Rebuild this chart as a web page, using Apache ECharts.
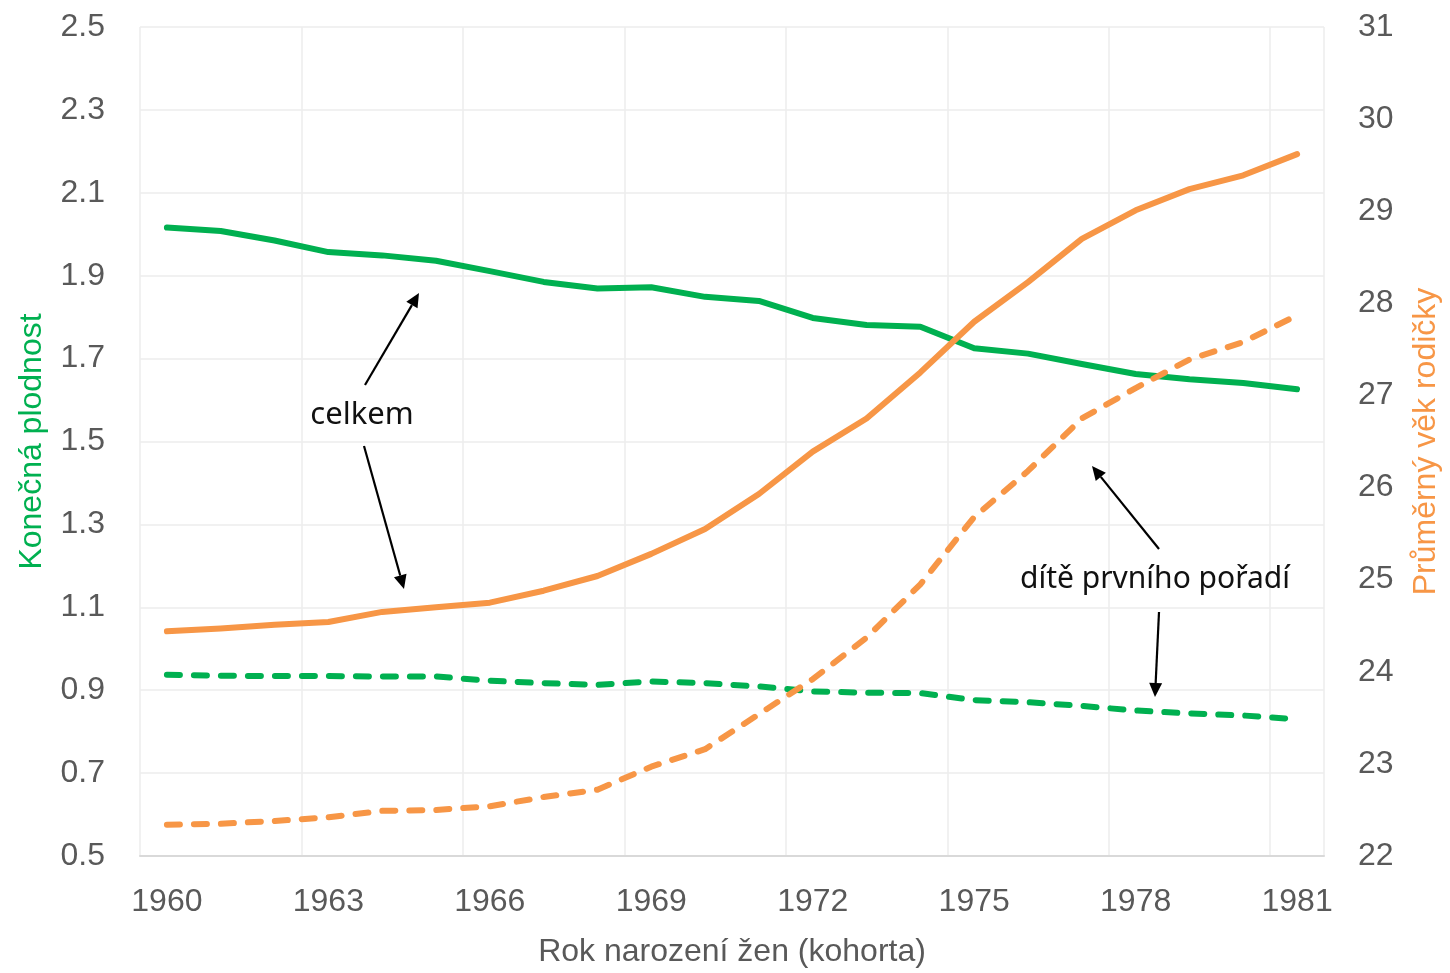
<!DOCTYPE html>
<html>
<head>
<meta charset="utf-8">
<script src="https://cdn.jsdelivr.net/npm/echarts@6/dist/echarts.min.js"></script>
<style>
html,body{margin:0;padding:0;background:#fff;overflow:hidden;width:100%;height:100%;}
#chart{width:100vw;height:100vh;}
</style>
</head>
<body>
<div id="chart"></div>
<script>
const years = ['1960','1961','1962','1963','1964','1965','1966','1967','1968','1969','1970','1971','1972','1973','1974','1975','1976','1977','1978','1979','1980','1981'];
// Konečná plodnost – celkem (left axis)
const fertTotal = [2.016,2.008,1.985,1.957,1.949,1.936,1.911,1.885,1.869,1.872,1.849,1.839,1.798,1.781,1.777,1.725,1.712,1.687,1.663,1.650,1.641,1.626];
// Konečná plodnost – dítě prvního pořadí (left axis)
const fertFirst = [0.937,0.935,0.934,0.934,0.933,0.933,0.923,0.917,0.913,0.921,0.917,0.909,0.897,0.894,0.893,0.876,0.871,0.862,0.851,0.844,0.839,0.830];
// Průměrný věk rodičky – celkem (right axis)
const ageTotal = [24.44,24.47,24.51,24.54,24.65,24.70,24.75,24.88,25.04,25.28,25.55,25.93,26.39,26.75,27.25,27.80,28.23,28.70,29.01,29.24,29.39,29.62];
// Průměrný věk rodičky – dítě prvního pořadí (right axis)
const ageFirst = [22.34,22.35,22.38,22.42,22.49,22.50,22.54,22.64,22.72,22.97,23.16,23.54,23.92,24.37,24.95,25.68,26.18,26.75,27.08,27.39,27.58,27.87];

const GREEN = '#00B050';
const ORANGE = '#F79646';
const GRAY = '#595959';
const FONT = '"Liberation Sans", Arial, sans-serif';

function arrow(x1, y1, x2, y2) {
  const ang = Math.atan2(y2 - y1, x2 - x1);
  const L = 14, W = 6.5;
  const bx = x2 - L * Math.cos(ang), by = y2 - L * Math.sin(ang);
  const px = -Math.sin(ang) * W, py = Math.cos(ang) * W;
  return [
    { type: 'line', shape: { x1: x1, y1: y1, x2: bx, y2: by }, style: { stroke: '#000', lineWidth: 2.2 }, z: 100 },
    { type: 'polygon', shape: { points: [[x2, y2], [bx + px, by + py], [bx - px, by - py]] }, style: { fill: '#000' }, z: 100 }
  ];
}

const annotations = [].concat(
  arrow(365, 385, 419, 293),
  arrow(364, 446, 404, 589),
  arrow(1159, 549, 1092, 466),
  arrow(1159, 612, 1155, 697),
  [
    { type: 'text', x: 362, y: 415, style: { text: 'celkem', fill: '#111', font: '31px "Noto Sans", sans-serif', align: 'center', verticalAlign: 'middle' }, z: 100 },
    { type: 'text', x: 1155, y: 579, style: { text: 'dítě prvního pořadí', fill: '#111', font: '30px "Noto Sans", sans-serif', align: 'center', verticalAlign: 'middle' }, z: 100 }
  ]
);

const chart = echarts.init(document.getElementById('chart'), null, { renderer: 'canvas' });
const option = {
  backgroundColor: '#fff',
  animation: false,
  textStyle: { fontFamily: FONT },
  grid: { left: 140, right: 122, top: 27, bottom: 112, containLabel: false },
  xAxis: {
    type: 'category',
    data: years,
    boundaryGap: true,
    name: 'Rok narození žen (kohorta)',
    nameLocation: 'middle',
    nameGap: 80,
    nameTextStyle: { color: GRAY, fontSize: 32, fontFamily: FONT },
    axisLine: { show: true, lineStyle: { color: '#d9d9d9', width: 2 } },
    axisTick: { show: false },
    axisLabel: { interval: 2, color: GRAY, fontSize: 32, margin: 30, fontFamily: FONT },
    splitLine: { show: true, interval: 2, lineStyle: { color: '#ececec', width: 1.5 } }
  },
  yAxis: [
    {
      type: 'value',
      min: 0.5, max: 2.5, interval: 0.2,
      position: 'left',
      name: 'Konečná plodnost',
      nameLocation: 'middle',
      nameRotate: 90,
      nameGap: 92,
      nameTextStyle: { color: GREEN, fontSize: 32, fontFamily: FONT },
      axisLine: { show: false },
      axisTick: { show: false },
      axisLabel: { color: GRAY, fontSize: 32, margin: 35, fontFamily: FONT, formatter: function (v) { return v.toFixed(1); } },
      splitLine: { show: true, lineStyle: { color: '#ececec', width: 1.5 } }
    },
    {
      type: 'value',
      min: 22, max: 31, interval: 1,
      position: 'right',
      name: 'Průměrný věk rodičky',
      nameLocation: 'middle',
      nameRotate: 90,
      nameGap: 86,
      nameTextStyle: { color: ORANGE, fontSize: 32, fontFamily: FONT },
      axisLine: { show: false },
      axisTick: { show: false },
      axisLabel: { color: GRAY, fontSize: 32, margin: 34, fontFamily: FONT },
      splitLine: { show: false }
    }
  ],
  series: [
    { name: 'Konečná plodnost celkem', type: 'line', yAxisIndex: 0, data: fertTotal, symbol: 'none',
      lineStyle: { color: GREEN, width: 6, cap: 'round', join: 'round' } },
    { name: 'Konečná plodnost 1. pořadí', type: 'line', yAxisIndex: 0, data: fertFirst, symbol: 'none',
      lineStyle: { color: GREEN, width: 6, type: [13, 14], cap: 'round', join: 'round' } },
    { name: 'Průměrný věk celkem', type: 'line', yAxisIndex: 1, data: ageTotal, symbol: 'none',
      lineStyle: { color: ORANGE, width: 6, cap: 'round', join: 'round' } },
    { name: 'Průměrný věk 1. pořadí', type: 'line', yAxisIndex: 1, data: ageFirst, symbol: 'none',
      lineStyle: { color: ORANGE, width: 6, type: [13, 14], cap: 'round', join: 'round' } }
  ],
  graphic: annotations
};
chart.setOption(option);
window.addEventListener('resize', function () { chart.resize(); });
</script>
</body>
</html>
